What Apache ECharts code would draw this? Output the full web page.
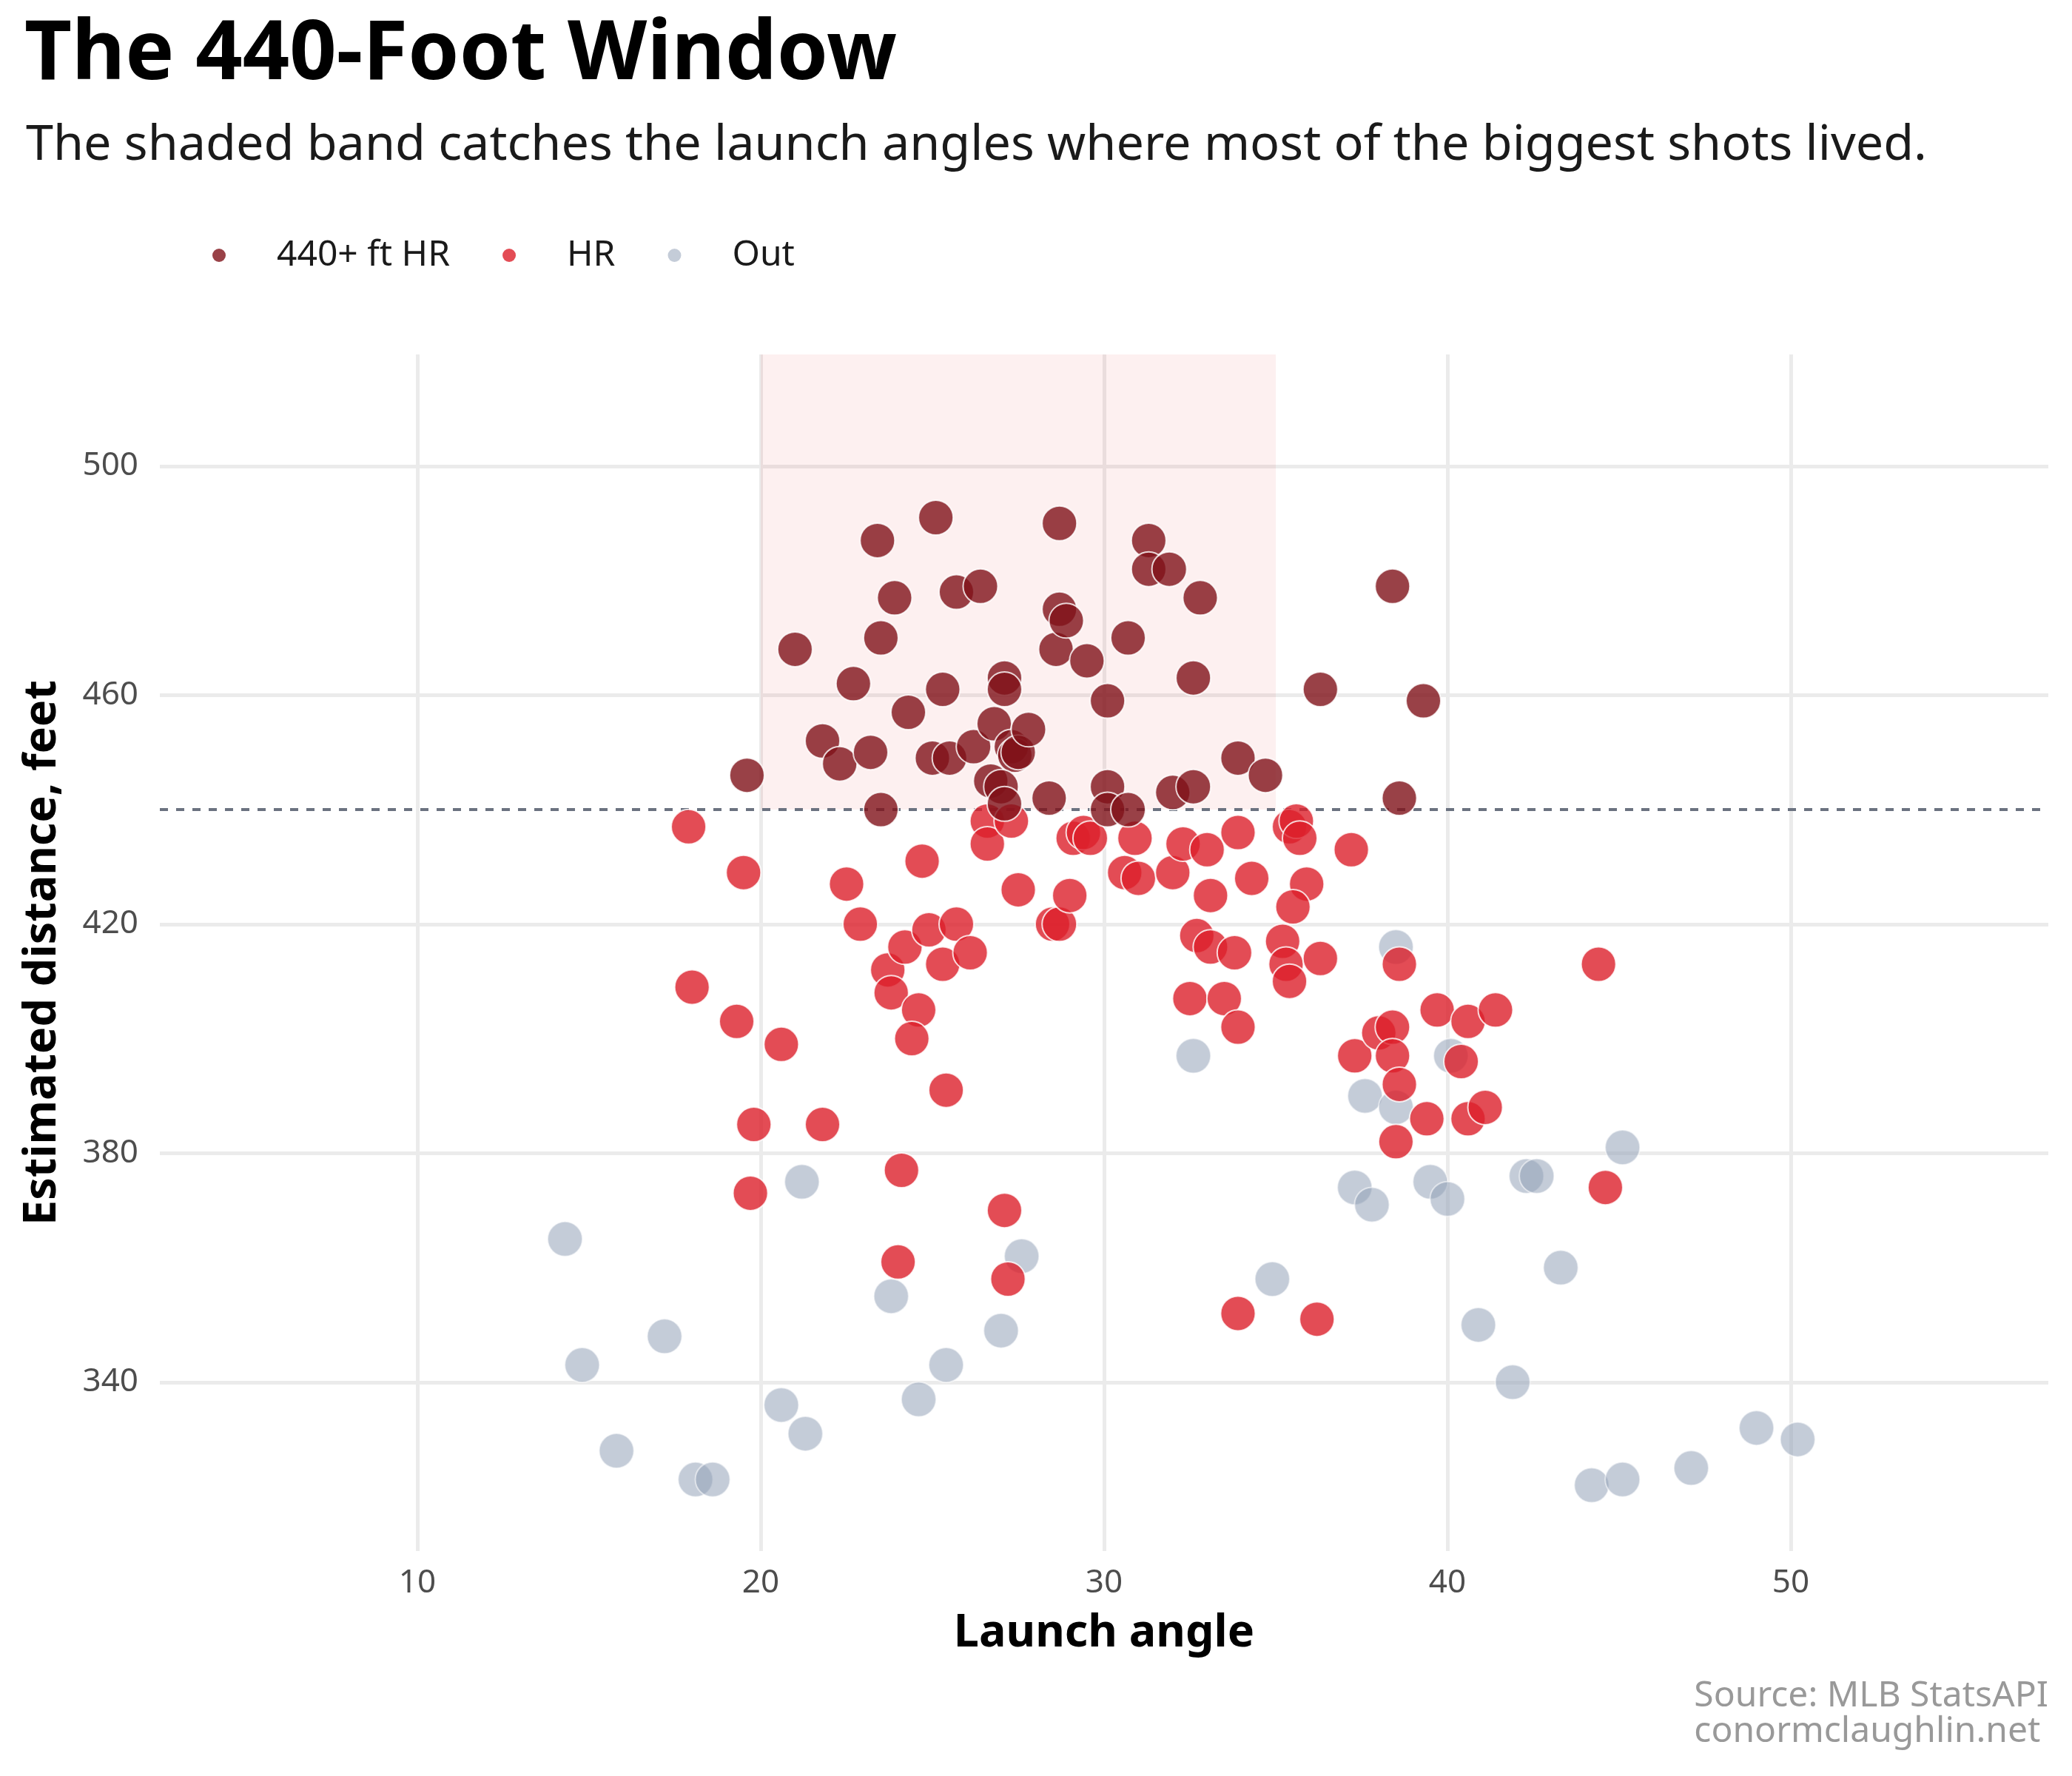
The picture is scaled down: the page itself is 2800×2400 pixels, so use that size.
<!DOCTYPE html>
<html>
<head>
<meta charset="utf-8">
<title>The 440-Foot Window</title>
<script src="https://cdn.jsdelivr.net/npm/echarts@6.0.0/dist/echarts.min.js"></script>
<style>
    html, body { margin: 0; padding: 0; background: #ffffff; }
    #chart { width: 2800px; height: 2400px; }
</style>
</head>
<body>
<div id="chart"></div>
<script>
// [launch angle, estimated distance]
var bigHits = [
    [19.6, 446], [21.0, 468], [21.8, 452], [22.3, 448], [22.7, 462], [23.2, 450], [23.4, 487],
    [23.5, 470], [23.5, 440], [23.9, 477], [24.3, 457], [25.1, 491], [25.3, 461], [25.0, 449],
    [25.5, 449], [25.7, 478], [26.4, 479], [26.2, 451], [26.8, 455], [26.7, 445], [27.1, 463],
    [27.1, 461], [27.3, 451], [27.4, 449.5], [27.5, 450], [27.0, 444], [27.1, 441], [27.8, 454],
    [28.7, 490], [28.6, 468], [28.7, 475], [28.9, 473], [28.4, 442], [29.5, 466], [30.1, 459],
    [30.1, 444], [30.7, 470], [30.1, 440], [30.7, 440], [31.3, 487], [31.3, 482], [31.9, 482],
    [32.8, 477], [32.6, 463], [32.0, 443], [32.6, 444], [33.9, 449], [34.7, 446], [36.3, 461],
    [38.4, 479], [39.3, 459], [38.6, 442]
];
var hrHits = [
    [17.9, 437], [19.5, 429], [18.0, 409], [19.3, 403], [20.6, 399], [19.8, 385], [19.7, 373],
    [21.8, 385], [22.5, 427], [22.9, 420], [23.7, 412], [23.8, 408], [24.2, 416], [24.7, 431],
    [24.9, 419], [25.7, 420], [25.3, 413], [26.1, 415], [24.6, 405], [24.4, 400], [25.4, 391],
    [24.1, 377], [24.0, 361], [27.1, 370], [27.2, 358], [26.6, 438], [26.6, 434], [27.3, 438],
    [27.5, 426], [28.5, 420], [28.7, 420], [29.0, 425], [29.1, 435], [29.4, 436], [29.6, 435],
    [30.9, 435], [30.6, 429], [31.0, 428], [32.0, 429], [32.3, 434], [33.0, 433], [32.7, 418],
    [33.1, 416], [33.8, 415], [33.1, 425], [32.5, 407], [33.5, 407], [33.9, 402], [33.9, 436],
    [34.3, 428], [35.4, 437], [35.6, 438], [35.7, 435], [35.9, 427], [35.5, 423], [35.2, 417],
    [35.3, 413], [35.4, 410], [36.3, 414], [37.2, 433], [37.3, 397], [38.0, 401], [38.4, 402],
    [38.4, 397], [38.6, 413], [38.6, 392], [38.5, 382], [39.4, 386], [39.7, 405], [40.6, 403],
    [40.4, 396], [40.6, 386], [41.1, 388], [41.4, 405], [44.4, 413], [44.6, 374], [33.9, 352],
    [36.2, 351]
];
var outHits = [
    [14.3, 365], [14.8, 343], [15.8, 328], [17.2, 348], [18.1, 323], [18.6, 323], [20.6, 336],
    [21.2, 375], [21.3, 331], [23.8, 355], [24.6, 337], [25.4, 343], [27.0, 349], [27.6, 362],
    [32.6, 397], [34.9, 358], [37.3, 374], [37.6, 390], [37.8, 371], [38.5, 388], [38.5, 416],
    [39.5, 375], [40.0, 372], [40.1, 397], [40.9, 350], [41.9, 340], [42.3, 376], [42.6, 376],
    [43.3, 360], [44.2, 322], [45.1, 381], [45.1, 323], [47.1, 325], [49.0, 332], [50.2, 330]
];
var groupNames = ['440+ ft HR', 'HR', 'Out'];
var angleTicks = [10, 20, 30, 40, 50];
var distTicks = [340, 380, 420, 460, 500];
var bandAngles = [20, 35];
var cutoff = 440;

var FONT = 'Noto Sans';
var X_MIN = 2.5, X_MAX = 57.5;
var Y_MIN = 310.5, Y_MAX = 519.5;
var myChart = null;

function pointSeries(name, data, color, opacity) {
    return {
        name: name,
        type: 'scatter',
        data: data,
        symbolSize: 47,
        z: 5,
        itemStyle: {
            color: color,
            opacity: opacity,
            borderColor: '#ffffff',
            borderWidth: 2
        },
        emphasis: { disabled: true }
    };
}

function AddChart() {
    // grid lines drawn as marks so they sit at the right ticks
    var gridLines = [];
    angleTicks.forEach(function (v) { gridLines.push({ xAxis: v }); });
    distTicks.forEach(function (v) { gridLines.push({ yAxis: v }); });

    var option = {
        backgroundColor: '#ffffff',
        animation: false,
        textStyle: { fontFamily: FONT },
        title: [
            {
                text: 'The 440-Foot Window',
                left: 28,
                top: 15,
                textStyle: { fontFamily: FONT, fontSize: 111, fontWeight: 'bold', color: '#000000' }
            },
            {
                text: 'The shaded band catches the launch angles where most of the biggest shots lived.',
                left: 30,
                top: 159,
                textStyle: { fontFamily: FONT, fontSize: 66.5, fontWeight: 'normal', color: '#1a1a1a' }
            }
        ],
        legend: {
            data: groupNames,
            left: 282,
            top: 316,
            icon: 'circle',
            itemWidth: 18,
            itemHeight: 18,
            itemGap: 71,
            selectedMode: false,
            itemStyle: { borderWidth: 0 },
            textStyle: { fontFamily: FONT, fontSize: 48, color: '#1a1a1a', padding: [0, 0, 0, 64] }
        },
        grid: { left: 216, right: 32, top: 479, bottom: 304, containLabel: false },
        xAxis: {
            type: 'value',
            min: X_MIN,
            max: X_MAX,
            name: 'Launch angle',
            nameLocation: 'middle',
            nameGap: 81,
            nameTextStyle: { fontFamily: FONT, fontSize: 61, fontWeight: 'bold', color: '#000000' },
            axisLine: { show: false },
            axisTick: { show: false },
            splitLine: { show: false },
            axisLabel: { customValues: angleTicks, fontFamily: FONT, fontSize: 44, color: '#4d4d4d', margin: 21 }
        },
        yAxis: {
            type: 'value',
            min: Y_MIN,
            max: Y_MAX,
            name: 'Estimated distance, feet',
            nameLocation: 'middle',
            nameGap: 128,
            nameTextStyle: { fontFamily: FONT, fontSize: 61, fontWeight: 'bold', color: '#000000' },
            axisLine: { show: false },
            axisTick: { show: false },
            splitLine: { show: false },
            axisLabel: { customValues: distTicks, fontFamily: FONT, fontSize: 44, color: '#4d4d4d', margin: 29 }
        },
        graphic: [{
            type: 'text',
            right: 32,
            top: 2268,
            style: {
                text: 'Source: MLB StatsAPI\nconormclaughlin.net',
                fontFamily: FONT,
                fontSize: 48,
                lineHeight: 48,
                align: 'right',
                fill: '#999999'
            }
        }],
        series: [
            {
                name: 'grid',
                type: 'scatter',
                data: [],
                silent: true,
                markLine: {
                    z: 1,
                    silent: true,
                    symbol: ['none', 'none'],
                    label: { show: false },
                    lineStyle: { color: '#ebebeb', width: 5, type: 'solid' },
                    data: gridLines
                }
            },
            {
                name: 'band',
                type: 'scatter',
                data: [],
                silent: true,
                markArea: {
                    z: 2,
                    silent: true,
                    itemStyle: { color: 'rgba(220, 38, 38, 0.07)' },
                    data: [[{ xAxis: bandAngles[0], yAxis: cutoff }, { xAxis: bandAngles[1], yAxis: Y_MAX }]]
                },
                markLine: {
                    z: 3,
                    silent: true,
                    symbol: ['none', 'none'],
                    label: { show: false },
                    lineStyle: { color: '#6b7280', width: 4, type: [11, 11] },
                    data: [{ yAxis: cutoff }]
                }
            },
            pointSeries(groupNames[2], outHits, '#94a3b8', 0.55),
            pointSeries(groupNames[1], hrHits, '#dc1f2b', 0.8),
            pointSeries(groupNames[0], bigHits, '#7f1219', 0.8)
        ]
    };

    myChart = echarts.init(document.getElementById('chart'), null, { renderer: 'canvas' });
    myChart.setOption(option);
}

AddChart();
</script>
</body>
</html>
